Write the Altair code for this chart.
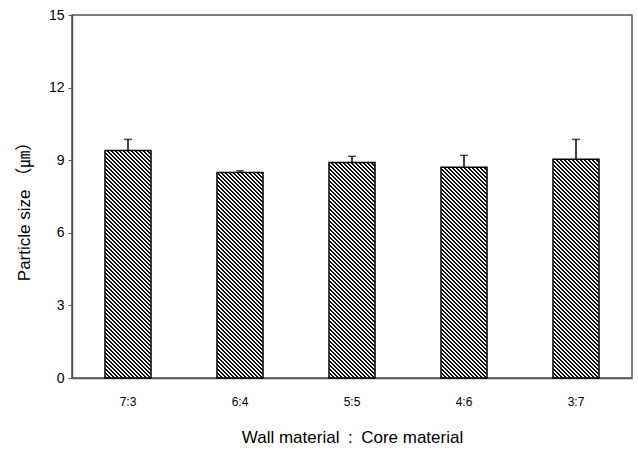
import altair as alt
import pandas as pd

categories = ["7:3", "6:4", "5:5", "4:6", "3:7"]
values = [9.40, 8.49, 8.90, 8.71, 9.04]
errors = [0.46, 0.07, 0.26, 0.49, 0.82]
y_ticks = [0, 3, 6, 9, 12, 15]

df = pd.DataFrame({"cat": categories, "val": values, "err": errors})
df["top"] = df["val"] + df["err"]

PLOT_W, PLOT_H, Y_MAX = 560, 363, 15
STEP = PLOT_W / len(categories)
BAR_W = 46
P_INNER = (STEP - BAR_W) / STEP

FONT = "Liberation Sans, Arial, Noto Sans CJK KR, sans-serif"


def hatch_for(value):
    """Diagonal '\\' hatch as a striped linear gradient, period 4px at 45 deg."""
    H = value * PLOT_H / Y_MAX
    W = BAR_W
    k = H / W
    s = (1 + k) / (1 + k * k)
    L = W + H
    stops = [{"offset": 0, "color": "#ffffff"}]
    m = 0
    while (4 * m + 0.5) / L < 1:
        a = (4 * m + 0.5) / L
        b = min((4 * m + 2.5) / L, 1)
        stops += [
            {"offset": a, "color": "#ffffff"},
            {"offset": a, "color": "#000000"},
            {"offset": b, "color": "#000000"},
            {"offset": b, "color": "#ffffff"},
        ]
        m += 1
    stops.append({"offset": 1, "color": "#ffffff"})
    return alt.Gradient(gradient="linear", x1=0, y1=1, x2=s, y2=1 - k * s, stops=stops)


x_enc = alt.X(
    "cat:N",
    sort=categories,
    scale=alt.Scale(paddingInner=P_INNER, paddingOuter=P_INNER / 2),
    axis=alt.Axis(
        title="Wall material\u2002:\u2002Core material",
        labelAngle=0,
        ticks=False,
        labelPadding=18,
        labelFontSize=12,
        titleFontSize=17,
        titlePadding=22,
    ),
)
y_enc = alt.Y(
    "val:Q",
    scale=alt.Scale(domain=[0, Y_MAX], nice=False),
    axis=alt.Axis(
        title="Particle size （㎛）",
        values=y_ticks,
        grid=False,
        tickSize=4,
        labelFontSize=14,
        labelPadding=4,
        titleFontSize=17,
        titlePadding=15,
        titleY=192,
    ),
)

bar_layers = []
for c, v in zip(categories, values):
    bar_layers.append(
        alt.Chart(df)
        .transform_filter(alt.datum.cat == c)
        .mark_bar(fill=hatch_for(v), stroke="#000000", strokeWidth=1.5)
        .encode(x=x_enc, y=y_enc)
    )

rules = alt.Chart(df).mark_rule(color="#000000", strokeWidth=1.5).encode(
    x=alt.X("cat:N", sort=categories),
    y="val:Q",
    y2="top:Q",
)
caps = alt.Chart(df).mark_tick(color="#000000", size=8, thickness=1.5).encode(
    x=alt.X("cat:N", sort=categories),
    y=alt.Y("top:Q"),
)

chart = (
    alt.layer(*bar_layers, rules, caps)
    .properties(
        width=PLOT_W,
        height=PLOT_H,
        autosize=alt.AutoSizeParams(type="none"),
        padding={"left": 72, "top": 15, "right": 6, "bottom": 73},
        background="#ffffff",
    )
    .configure_view(stroke="#555555", strokeWidth=1.5)
    .configure_axis(
        domainColor="#555555",
        domainWidth=1.5,
        tickColor="#555555",
        labelColor="#000000",
        titleColor="#000000",
        labelFont=FONT,
        titleFont=FONT,
        titleFontWeight="normal",
    )
)

chart.save("out.html", embed_options={"renderer": "svg", "actions": False})
